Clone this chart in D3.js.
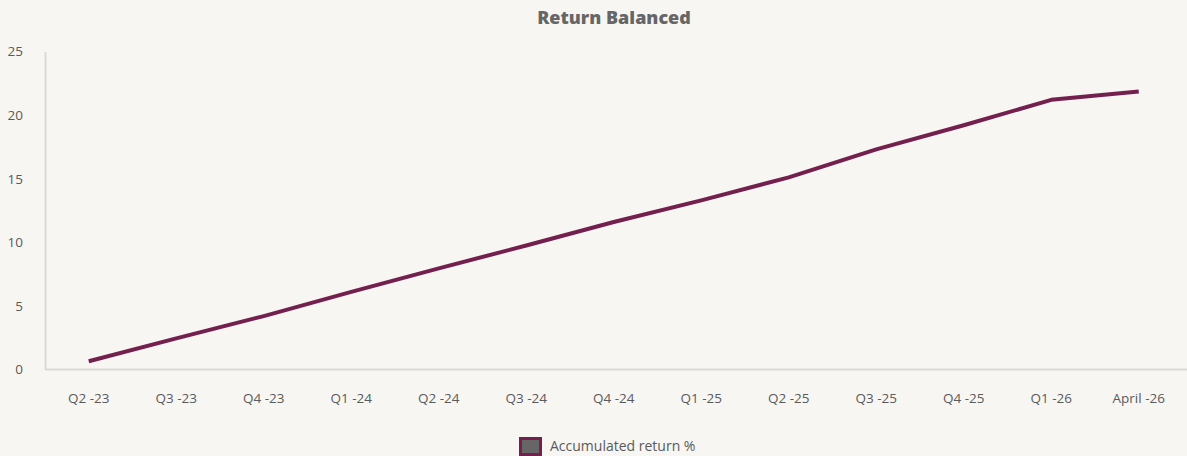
<!DOCTYPE html>
<meta charset="utf-8" />
<title>Return Balanced</title>
<style>
  body { margin: 0; background: #f7f6f3; font-family: "Open Sans", sans-serif; }
  svg { display: block; }
  .title { font-size: 18px; font-weight: 800; fill: #666; }
  .tick text { font-family: "Open Sans", sans-serif; font-size: 13.5px; fill: #5a5a5a; }
  .domain { stroke: #d9d9d9; stroke-width: 2px; }
  .legend text { font-size: 14px; fill: #5a5a5a; }
</style>
<svg width="1187" height="456"></svg>
<script src="https://d3js.org/d3.v7.min.js"></script>
<script>
const width = 1187, height = 456;
const margin = { top: 51.5, right: 4.5, bottom: 86.5, left: 45 };

const categories = ["Q2 -23", "Q3 -23", "Q4 -23", "Q1 -24", "Q2 -24", "Q3 -24", "Q4 -24",
  "Q1 -25", "Q2 -25", "Q3 -25", "Q4 -25", "Q1 -26", "April -26"];
const accumulatedReturn = [0.65, 2.45, 4.2, 6.1, 7.95, 9.75, 11.6, 13.3, 15.1, 17.3, 19.2, 21.2, 21.85];
const yTicks = [0, 5, 10, 15, 20, 25];

const svg = d3.select("svg");

const x = d3.scaleBand()
  .domain(categories)
  .range([margin.left, width - margin.right]);

const y = d3.scaleLinear()
  .domain([0, 25])
  .range([height - margin.bottom, margin.top]);

svg.append("text")
  .attr("class", "title")
  .attr("x", 614)
  .attr("y", 24)
  .attr("text-anchor", "middle")
  .text("Return Balanced");

const xAxis = svg.append("g")
  .attr("transform", `translate(0,${height - margin.bottom})`)
  .call(d3.axisBottom(x).tickSize(0).tickPadding(24).tickSizeOuter(0));
xAxis.select(".domain").attr("d", `M${margin.left},0H${width}`);

const yAxis = svg.append("g")
  .attr("transform", `translate(${margin.left},0)`)
  .call(d3.axisLeft(y).tickValues(yTicks).tickSize(0).tickPadding(22).tickSizeOuter(0));
yAxis.selectAll(".tick text").attr("text-anchor", "end");

const line = d3.line()
  .x((d, i) => x(categories[i]) + x.bandwidth() / 2)
  .y(d => y(d));

svg.append("path")
  .datum(accumulatedReturn)
  .attr("fill", "none")
  .attr("stroke", "#74204e")
  .attr("stroke-width", 4)
  .attr("stroke-linejoin", "round")
  .attr("d", line);

const legend = svg.append("g").attr("class", "legend")
  .attr("transform", "translate(519,437)");
legend.append("rect")
  .attr("x", 1.5).attr("y", 1.5)
  .attr("width", 20).attr("height", 16)
  .attr("fill", "#666")
  .attr("stroke", "#74204e")
  .attr("stroke-width", 3);
legend.append("text")
  .attr("x", 31)
  .attr("y", 14)
  .text("Accumulated return %");
</script>
